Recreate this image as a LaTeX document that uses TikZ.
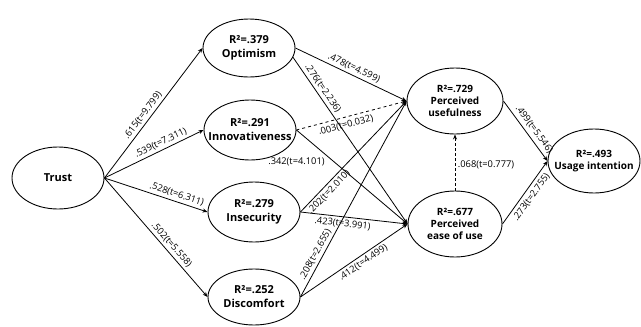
\documentclass[tikz,border=0pt]{standalone}
\usepackage{fontspec}
\setmainfont{Open Sans}
\usetikzlibrary{shapes.geometric,arrows.meta}
\begin{document}
\begin{tikzpicture}[x=1pt,y=-1pt,
  lv/.style={ellipse,draw,line width=0.9pt,inner sep=0pt},
  txt/.style={align=center,font=\bfseries\fontsize{11}{14}\selectfont,inner sep=0pt},
  txts/.style={align=center,font=\bfseries\fontsize{10}{12}\selectfont,inner sep=0pt},
  arr/.style={-{Stealth[length=5pt,width=4pt]},line width=0.8pt},
  lab/.style={font=\fontsize{9.3}{11}\selectfont,inner sep=2.5pt}]
\useasboundingbox (0,0) rectangle (641,327);
% ellipses
\node[lv,minimum width=92pt,minimum height=62pt] (trust) at (58,178) {};
\node[lv,minimum width=92pt,minimum height=58pt] (opt) at (249,48) {};
\node[lv,minimum width=92pt,minimum height=60pt] (inn) at (250,130) {};
\node[lv,minimum width=92pt,minimum height=60pt] (ins) at (254,212) {};
\node[lv,minimum width=92pt,minimum height=56pt] (dis) at (254,297) {};
\node[lv,minimum width=96pt,minimum height=66pt] (pu) at (455,101) {};
\node[lv,minimum width=94pt,minimum height=66pt] (peou) at (455,224) {};
\node[lv,minimum width=92pt,minimum height=64pt] (ui) at (594,161) {};
% texts
\node[txt] (trustT) at (trust) {Trust};
\node[txt] (optT) at (opt) {R²=.379\\Optimism};
\node[txt] (innT) at (inn) {R²=.291\\Innovativeness};
\node[txt] (insT) at (ins) {R²=.279\\Insecurity};
\node[txt] (disT) at (dis) {R²=.252\\Discomfort};
\node[txts] (puT) at (pu) {R²=.729\\Perceived\\usefulness};
\node[txts] (peouT) at (peou) {R²=.677\\Perceived\\ease of use};
\node[txts] (uiT) at (ui) {R²=.493\\Usage intention};
% paths
\draw[arr] (trust.east) -- node[lab,sloped,above,pos=0.45]{.615(t=9.799)} (opt.west);
\draw[arr] (trust.east) -- node[lab,sloped,above,pos=0.6]{.539(t=7.311)} (inn.west);
\draw[arr] (trust.east) -- node[lab,sloped,above,pos=0.68]{.528(t=6.311)} (ins.west);
\draw[arr] (trust.east) -- node[lab,sloped,above,pos=0.6]{.502(t=5.558)} (dis.west);
\draw[arr] (opt.east) -- node[lab,sloped,above,pos=0.5]{.478(t=4.599)} (pu.west);
\draw[arr] (opt.-12) -- node[lab,sloped,above,pos=0.21]{.276(t=2.236)} (peou.west);
\draw[arr,dashed] (inn.east) -- node[lab,sloped,below,pos=0.43,inner sep=3.5pt]{.003(t=0.032)} (pu.west);
\draw[arr] (inn.east) -- node[lab,pos=0,yshift=-32pt]{.342(t=4.101)} (peou.west);
\draw[arr] (ins.east) -- node[lab,sloped,below,pos=0.22]{.202(t=2.010)} (pu.west);
\draw[arr] (ins.east) -- node[lab,sloped,below,pos=0.4]{.423(t=3.991)} (peou.west);
\draw[arr] (dis.east) -- node[lab,sloped,above,pos=0.2]{.208(t=2.655)} (pu.west);
\draw[arr] (dis.east) -- node[lab,sloped,below,pos=0.55]{.412(t=4.499)} (peou.west);
\draw[arr] (pu.east) -- node[lab,sloped,above,pos=0.55,inner sep=3.5pt]{.499(t=5.546)} (ui.west);
\draw[arr] (peou.east) -- node[lab,sloped,below,pos=0.5,inner sep=3.5pt]{.273(t=2.755)} (ui.west);
\draw[arr,densely dashed] (peou.north) -- node[lab,right,pos=0.46]{.068(t=0.777)} (pu.south);
\end{tikzpicture}
\end{document}
